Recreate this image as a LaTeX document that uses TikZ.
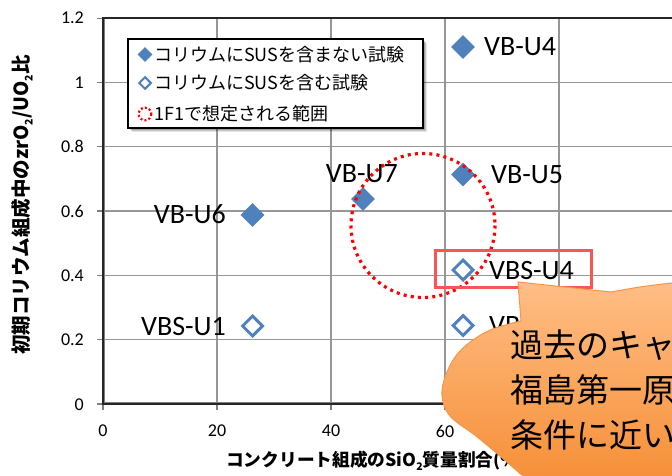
\documentclass[tikz,border=0pt]{standalone}
\usepackage{fontspec}
\setmainfont{Carlito}
\newfontfamily\jp{Noto Sans CJK JP}
\usetikzlibrary{shapes.geometric,calc}
\definecolor{mblue}{RGB}{79,129,189}
\definecolor{gridc}{RGB}{150,150,150}
\definecolor{axc}{RGB}{128,128,128}
\definecolor{hlred}{RGB}{250,85,85}
\definecolor{orlight}{RGB}{255,190,134}
\definecolor{ordark}{RGB}{245,140,50}
\definecolor{orline}{RGB}{245,150,70}
\newcommand\sbt[1]{\raisebox{-0.22em}{\fontsize{10.5}{10.5}\selectfont #1}}
\begin{document}
\begin{tikzpicture}[x=1pt,y=-1pt,
  gridl/.style={gridc, line width=1.3},
  tickl/.style={axc, line width=1.3},
  fdia/.style={diamond, aspect=1, fill=mblue, minimum size=24, inner sep=0},
  hdia/.style={diamond, aspect=1, draw=mblue, fill=white, line width=3, minimum size=21, inner sep=0},
  lab/.style={inner sep=0, font=\fontsize{28}{30}\selectfont},
  ytl/.style={inner sep=0, anchor=east, font=\fontsize{18}{20}\selectfont},
  xtl/.style={inner sep=0, font=\fontsize{18}{20}\selectfont},
  legt/.style={inner sep=0, anchor=west, font=\jp\fontsize{18}{20}\selectfont},
  hlbox/.style={draw=hlred, line width=3, minimum width=156, minimum height=37, inner sep=0},
  reddot/.style={red, line width=3.2, dash pattern=on 3 off 4.2}
]
\useasboundingbox (0,0) rectangle (672,476);
\clip (0,0) rectangle (672,476);
\fill[white] (0,0) rectangle (672,476);

% grid
\foreach \yy in {82.5,146.8,211.1,275.4,339.7} \draw[gridl] (103,\yy) -- (673,\yy);
\foreach \xx in {217,331,445,559} \draw[gridl] (\xx,18.2) -- (\xx,404);
% ticks
\foreach \yy in {18.2,82.5,146.8,211.1,275.4,339.7,404} \draw[tickl] (97,\yy) -- (103,\yy);
\foreach \xx in {103,217,331,445,559} \draw[tickl] (\xx,404) -- (\xx,410);
% plot border
\draw[black!85, line width=1.8] (103,18.2) rectangle (673,404);
\draw[axc, line width=1] (104.5,19) -- (104.5,402.5) -- (672,402.5);

% tick labels
\node[ytl] (t12) at (84,18.2) {1.2};
\node[ytl] (t10) at (84,82.5) {1};
\node[ytl] (t08) at (84,146.8) {0.8};
\node[ytl] (t06) at (84,211.1) {0.6};
\node[ytl] (t04) at (84,275.4) {0.4};
\node[ytl] (t02) at (84,339.7) {0.2};
\node[ytl] (t00) at (84,404.5) {0};
\node[xtl] (x0) at (103,431) {0};
\node[xtl] (x20) at (217,431) {20};
\node[xtl] (x40) at (331,431) {40};
\node[xtl] (x60) at (445,431) {60};

% axis titles
\node[inner sep=0, rotate=90, font=\jp\bfseries\fontsize{19.5}{21}\selectfont] (ytitle) at (22,205) {初期コリウム組成中のzrO\sbt{2}/UO\sbt{2}比};
\node[inner sep=0, anchor=west, font=\jp\bfseries\fontsize{17.7}{20}\selectfont] (xtitle) at (226,461) {コンクリート組成のSiO\sbt{2}質量割合(\%)};

% legend
\foreach \s/\o in {4/0.10,3/0.14,2/0.18,1/0.22}
  \fill[black, opacity=\o] (128+\s,39+\s) rectangle (423+\s,128+\s);
\node[draw=black, fill=white, line width=1.5, minimum width=295, minimum height=89, inner sep=0] (legend) at (275.5,83.5) {};
\node[diamond, aspect=1, fill=mblue, minimum size=15, inner sep=0] (lm1) at (145,54.5) {};
\node[diamond, aspect=1, draw=mblue, fill=white, line width=2, minimum size=12.5, inner sep=0] (lm2) at (145,83) {};
\draw[red, line width=2.2, dash pattern=on 2 off 2.2] (145,114) circle[radius=6.3];
\node[legt] (lt1) at (154,54.5) {コリウムにSUSを含まない試験};
\node[legt] (lt2) at (154,83) {コリウムにSUSを含む試験};
\node[legt] (lt3) at (154,114) {1F1で想定される範囲};

% data markers
\node[fdia] (u4) at (463,47) {};
\node[fdia] (u5) at (463,174.5) {};
\node[fdia] (u7) at (363,199) {};
\node[fdia] (u6) at (252.5,215) {};
\node[hdia] (s4) at (463,270) {};
\node[hdia] (s1) at (252.5,326) {};
\node[hdia] (s2) at (463,325.5) {};

% red dotted range circle
\draw[reddot] (423,225.5) circle[radius=72];

% data labels
\node[lab, anchor=west] (lu4) at (484,47) {VB-U4};
\node[lab, anchor=west] (lu5) at (491,175) {VB-U5};
\node[lab, anchor=east] (lu7) at (398,174) {VB-U7};
\node[lab, anchor=east] (lu6) at (226,214) {VB-U6};
\node[lab, anchor=east] (ls1) at (226,327) {VBS-U1};
\node[lab, anchor=west] (ls4) at (489,271) {VBS-U4};
\node[lab, anchor=west] (ls2) at (489,326) {VB};

% highlight box
\node[hlbox] (hl) at (513.5,269) {};

% callout
\path[top color=orlight, bottom color=ordark, draw=orline, line width=1]
  (518,282) -- (521,321)
  -- plot[smooth, tension=0.6] coordinates {(521,321) (488,331) (461,350) (447,372) (442,395) (450,416) (476,436) (500,456) (523,476) (545,494)}
  -- (700,494) -- (700,281)
  -- plot[smooth, tension=0.5] coordinates {(700,281) (672,283) (640,287) (611,292)}
  -- cycle;
\node[inner sep=0, anchor=west, align=left, font=\jp\fontsize{33}{45}\selectfont] (ctext) at (510,390) {過去のキャ\\福島第一原\\条件に近い};
\end{tikzpicture}
\end{document}
